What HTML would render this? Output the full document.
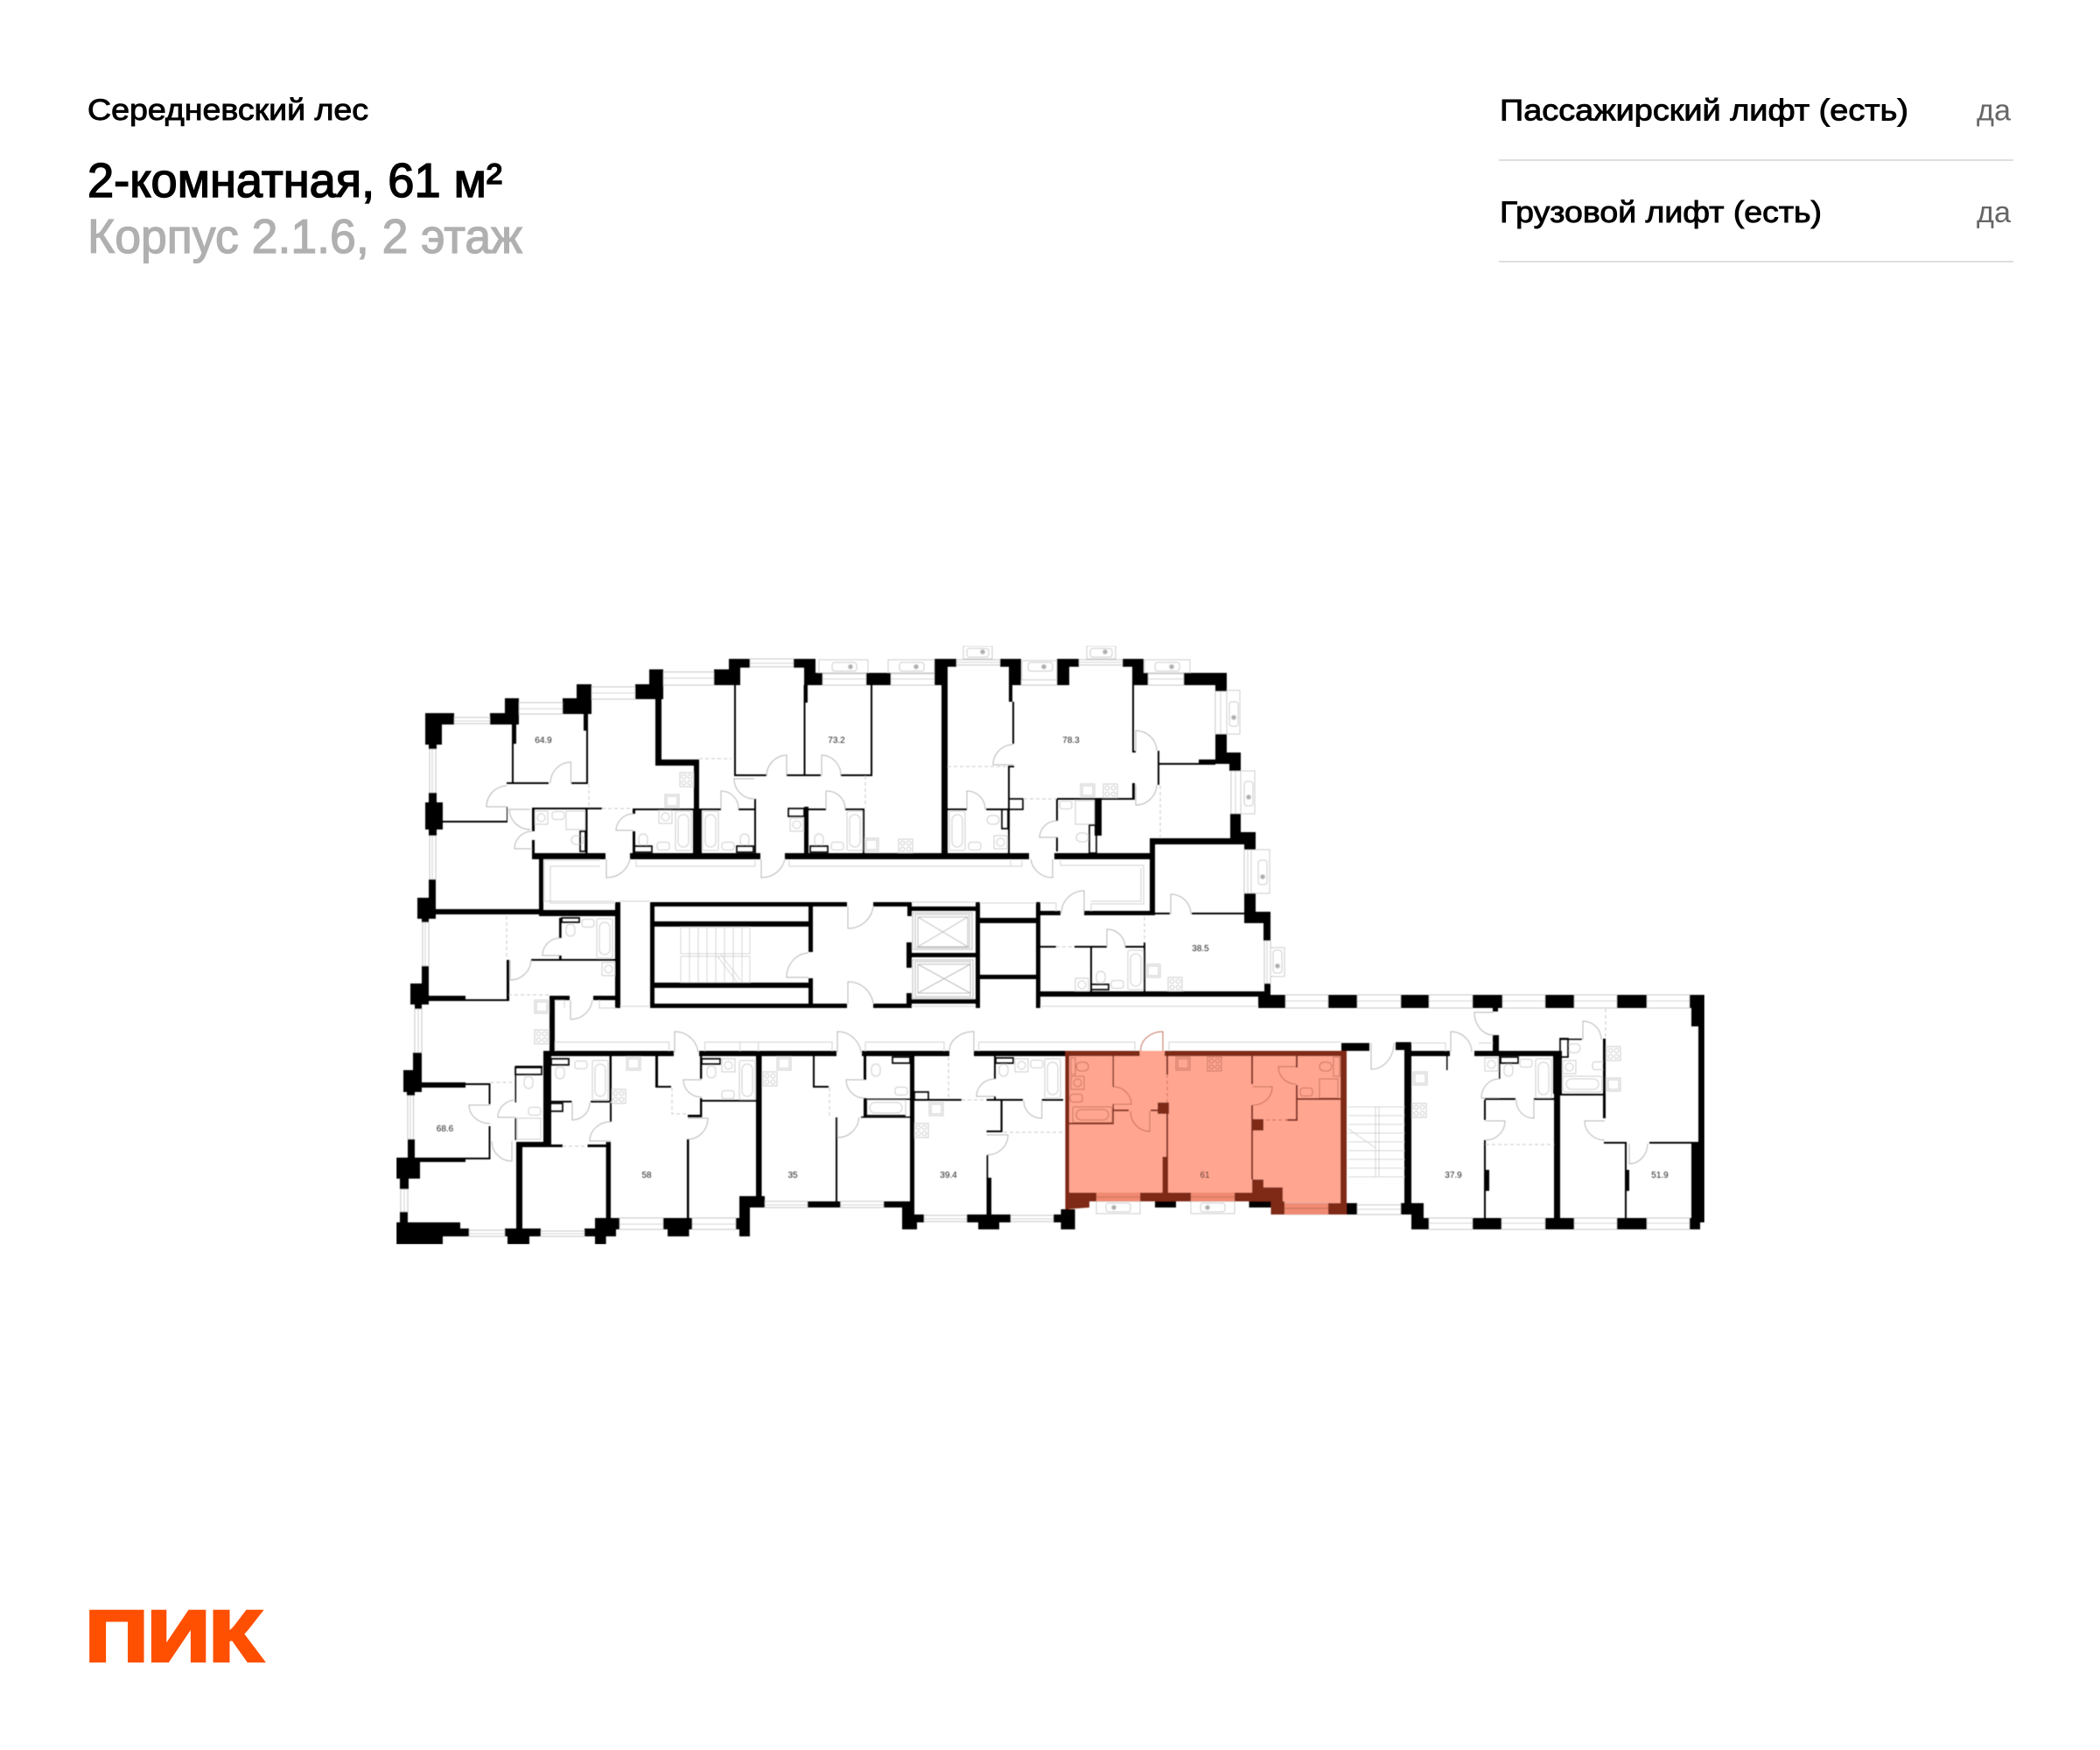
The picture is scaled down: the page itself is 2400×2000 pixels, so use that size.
<!DOCTYPE html>
<html lang="ru"><head><meta charset="utf-8"><title>Середневский лес</title>
<style>html,body{margin:0;padding:0;background:#fff}svg{display:block}text{font-family:"Liberation Sans","DejaVu Sans",sans-serif}</style></head>
<body>
<svg xmlns="http://www.w3.org/2000/svg" width="2400" height="2000" viewBox="0 0 2400 2000">
<defs>
<filter id="b" x="0" y="0" width="100%" height="100%"><feGaussianBlur stdDeviation="0.6"/></filter>
<g id="st" fill="none"><rect x="0" y="0" width="16" height="16"/><circle cx="4.5" cy="4.5" r="2.4"/><circle cx="11.5" cy="4.5" r="2.4"/><circle cx="4.5" cy="11.5" r="2.4"/><circle cx="11.5" cy="11.5" r="2.4"/></g>
<g id="kk" fill="none"><rect x="0" y="0" width="16" height="15"/><rect x="2" y="2" width="12" height="11"/></g>
<g id="ws" fill="none"><rect x="0" y="0" width="15" height="15"/><circle cx="7.500" cy="7.500" r="4.500"/></g>
<g id="wc" fill="none"><rect x="-5" y="-7" width="10" height="14" rx="5"/></g>
<g id="wh" fill="none"><rect x="-7" y="-5" width="14" height="10" rx="5"/></g>
<g id="bn" fill="none"><rect x="-7" y="-4.500" width="14" height="9" rx="3"/></g>
<g id="bv" fill="none"><rect x="0" y="0" width="18" height="45" rx="2"/><rect x="3" y="4" width="12" height="37" rx="6"/></g>
<g id="bh" fill="none"><rect x="0" y="0" width="45" height="18" rx="2"/><rect x="4" y="3" width="37" height="12" rx="6"/></g>
</defs>

<text x="100" y="137" font-size="34" fill="#000" stroke="#000" stroke-width=".9" textLength="321" lengthAdjust="spacingAndGlyphs">Середневский лес</text>
<text x="100" y="225" font-size="55" fill="#000" stroke="#000" stroke-width="1.500" textLength="474" lengthAdjust="spacingAndGlyphs">2-комнатная, 61 м²</text>
<text x="100" y="289" font-size="55" fill="#b0b0b0" stroke="#b0b0b0" stroke-width="1.300" textLength="497" lengthAdjust="spacingAndGlyphs">Корпус 2.1.6, 2 этаж</text>
<text x="1714" y="137.500" font-size="34" fill="#000" stroke="#000" stroke-width=".9" textLength="467" lengthAdjust="spacingAndGlyphs">Пассажирский лифт (есть)</text>
<text x="2259" y="137.500" font-size="34" fill="#666" textLength="39" lengthAdjust="spacingAndGlyphs">да</text>
<rect x="1713" y="182" width="588" height="2" fill="#dedede"/>
<text x="1714" y="254" font-size="34" fill="#000" stroke="#000" stroke-width=".9" textLength="368" lengthAdjust="spacingAndGlyphs">Грузовой лифт (есть)</text>
<text x="2259" y="254" font-size="34" fill="#666" textLength="39" lengthAdjust="spacingAndGlyphs">да</text>
<rect x="1713" y="298" width="588" height="2" fill="#dedede"/>
<text x="98" y="1898" font-size="82" font-weight="700" fill="#ff4f00" stroke="#ff4f00" stroke-width="4" stroke-linejoin="miter" textLength="201.500" lengthAdjust="spacingAndGlyphs">ПИК</text>

<g filter="url(#b)">
<!-- apartment highlight -->
<path d="M1217.500 1201H1539V1388H1452.500V1373H1245V1380L1217.500 1382z" fill="#ffa590"/>

<!-- stairs -->
<path fill="none" stroke="#d4d4d4" stroke-width="1" d="M778 1060H857V1090H778zM778 1093H857V1123H778zM788 1060V1123M798 1060V1123M808 1060V1123M818 1060V1123M828 1060V1123M838 1060V1123M848 1060V1123M820 1093L842 1122M824 1091L846 1120
M1541 1265H1605M1541 1275H1605M1541 1285H1605M1541 1295H1605M1541 1305H1605M1541 1315H1605M1541 1325H1605M1541 1335H1605M1541 1345H1605M1572 1265V1345M1576 1265V1345M1541 1290L1572 1312"/>

<!-- windows, corridor frames -->
<path fill="#fff" stroke="#c4c4c4" stroke-width="1" d="M519 820H560V827H519zM593 803H643V816H593zM676 785H726V799H676zM758 768H816V783H758zM857 753H907V762H857zM940 770H990V783H940zM1018 770H1068V783H1018zM1093 754H1143V760H1093zM1167 777H1208V783H1167zM1233 754H1283V760H1233zM1312 770H1353V783H1312z
M491 856H498V906H491zM491 955H498V1005H491zM1389 790H1402V839H1389zM1407 881H1418V930H1407zM1422 971H1430V1021H1422zM1445 1075H1452V1124H1445zM483 1054H490V1104H483zM474 1153H482V1203H474zM466 1252H472.500V1302H466zM458 1359H466V1385H458z
M536 1406H577V1413H536zM618 1407H668V1413H618zM708 1392H758V1405H708zM791 1392H841V1405H791zM874 1373H923V1380H874zM960.500 1373H1010V1380H960.500zM1056 1389H1105V1396H1056zM1155 1389H1204V1396H1155zM1468 1375H1518V1388H1468zM1551 1377H1601V1388H1551zM1633 1392H1683V1405H1633zM1716 1392H1766V1405H1716zM1799 1392H1848V1405H1799zM1882 1392H1931V1405H1882z
M1469 1137H1518V1152H1469zM1551 1137H1601V1152H1551zM1633 1137H1683V1152H1633zM1717 1137H1766V1152H1717zM1799 1137H1848V1152H1799zM1882 1137H1931V1152H1882z"/>
<path fill="none" stroke="#d0d0d0" stroke-width="1" d="M519 824H560M593 810H643M676 792H726M758 775H816M857 758H907M940 776H990M1018 776H1068M1233 757H1283M1093 757H1143M1312 776H1353M494 856V906M494 955V1005M1395 790V839M1412 881V930M1426 971V1021M1448 1075V1124M486 1054V1104M478 1153V1203M469 1252V1302M462 1359V1385M536 1410H577M618 1410H668M708 1399H758M791 1399H841M874 1377H923M960.500 1377H1010M1056 1393H1105M1155 1393H1204M1468 1381H1518M1551 1382H1601M1633 1398H1683M1716 1398H1766M1799 1398H1848M1882 1398H1931M1469 1144H1518M1551 1144H1601M1633 1144H1683M1717 1144H1766M1799 1144H1848M1882 1144H1931
M622 983H686M629 990H686M622 983V1030H702M629 990V1032H702M727 983V990H863V983M902 983V990H1168V983M1155 983V990M1212 983V989H1307V1033H1247V1041M1304 992V1030H1247M1042 1031H1115M1120 1032H1184M1189 1032H1207V1041M708 1030H743M708 1150H742M1189 1150H1438M1040 1150H1115M630 1032H703M685 1143V1152H704M634 1191H764.500V1201M634 1191V1201M805.500 1191H951V1201M805.500 1191V1201M845.700 1191V1201M866.700 1191V1201M989 1191H1079V1201M989 1191V1201M1118.600 1191H1297V1201M1118.600 1191V1201M1336 1191H1533M1336 1191V1201M1613 1192H1652V1201M1690 1192H1707V1201M634 1143H645V1152"/>

<!-- balconies -->
<g fill="none" stroke="#cccccc" stroke-width="1">
<rect x="936" y="754" width="56" height="15"/><rect x="951" y="757" width="28" height="10" rx="3"/><circle cx="972" cy="762" r="2.500" fill="#aaa"/>
<rect x="1015" y="754" width="53" height="15"/><rect x="1028" y="757" width="28" height="10" rx="3"/><circle cx="1047" cy="762" r="2.500" fill="#aaa"/>
<rect x="1101" y="738" width="33" height="15"/><rect x="1105" y="741" width="25" height="10" rx="3"/><circle cx="1123" cy="745" r="2.500" fill="#aaa"/>
<rect x="1168" y="755" width="40" height="22"/><rect x="1175" y="757" width="28" height="10" rx="3"/><circle cx="1193" cy="762" r="2.500" fill="#aaa"/>
<rect x="1242" y="738" width="33" height="15"/><rect x="1246" y="741" width="25" height="10" rx="3"/><circle cx="1263" cy="745" r="2.500" fill="#aaa"/>
<rect x="1308" y="754" width="52" height="15"/><rect x="1320" y="757" width="28" height="10" rx="3"/><circle cx="1339" cy="762" r="2.500" fill="#aaa"/>
<rect x="1402" y="789" width="15" height="50"/><rect x="1405" y="802" width="10" height="28" rx="3"/><circle cx="1410" cy="820" r="2.500" fill="#aaa"/>
<rect x="1418" y="881" width="16" height="49"/><rect x="1422" y="893" width="10" height="28" rx="3"/><circle cx="1427" cy="911" r="2.500" fill="#aaa"/>
<rect x="1430" y="971" width="21" height="50"/><rect x="1438" y="983" width="10" height="28" rx="3"/><circle cx="1443" cy="1002" r="2.500" fill="#aaa"/>
<rect x="1452" y="1083" width="16" height="33"/><rect x="1455" y="1086" width="10" height="26" rx="3"/><circle cx="1460" cy="1104" r="2.500" fill="#aaa"/>
<rect x="1253" y="1373" width="50" height="14"/><rect x="1264" y="1375" width="28" height="10" rx="3"/><circle cx="1273" cy="1380" r="2.500" fill="#aaa"/>
<rect x="1361" y="1373" width="50" height="14"/><rect x="1372" y="1375" width="28" height="10" rx="3"/><circle cx="1380" cy="1380" r="2.500" fill="#aaa"/>
</g>

<!-- lifts -->
<g fill="none" stroke="#bdbdbd" stroke-width="1">
<rect x="1043" y="1043" width="68" height="42"/><rect x="1046" y="1045" width="62" height="38"/><path d="M1049 1048H1106V1082H1049zM1049 1048L1106 1082M1106 1048L1049 1082"/>
<rect x="1043" y="1097" width="69" height="44"/><rect x="1046" y="1099" width="63" height="40"/><path d="M1049 1102H1109V1135H1049zM1049 1102L1109 1135M1109 1102L1049 1135"/>
</g>

<!-- fixtures -->
<g stroke="#cdcdcd" stroke-width="1">
<use href="#st" x="777" y="883"/><use href="#st" x="1261" y="896"/><use href="#st" x="1027" y="959"/><use href="#st" x="611" y="1177"/><use href="#st" x="699" y="1245"/><use href="#st" x="872" y="1225"/><use href="#st" x="1045" y="1284"/><use href="#st" x="1614" y="1261"/><use href="#st" x="1836" y="1196"/><use href="#st" x="1335" y="1117"/>
<use href="#kk" x="760" y="908"/><use href="#kk" x="1235" y="896"/><use href="#kk" x="716" y="1208"/><use href="#kk" x="888" y="1208"/><use href="#kk" x="1062" y="1260"/><use href="#kk" x="1615" y="1225"/><use href="#kk" x="1836" y="1232"/><use href="#kk" x="1310" y="1102"/><use href="#kk" x="611" y="1143"/><use href="#kk" x="988" y="958"/>
<use href="#ws" x="611" y="927"/><use href="#ws" x="753" y="926"/><use href="#ws" x="903" y="935"/><use href="#ws" x="1136" y="955"/><use href="#ws" x="688" y="1100"/><use href="#ws" x="825" y="1210"/><use href="#ws" x="1160" y="1210"/><use href="#ws" x="1229" y="1118"/><use href="#ws" x="1697" y="1209"/><use href="#ws" x="1786" y="1212"/>
<use href="#wc" x="735" y="960"/><use href="#wc" x="851" y="960"/><use href="#wc" x="936" y="960"/><use href="#wc" x="652" y="1063"/><use href="#wc" x="640" y="1226"/><use href="#wc" x="604" y="1237"/><use href="#wc" x="813" y="1225"/><use href="#wc" x="1001" y="1223"/><use href="#wc" x="1147" y="1223"/><use href="#wc" x="1724" y="1223"/><use href="#wc" x="1258" y="1117"/>
<use href="#wh" x="660" y="960"/><use href="#wh" x="1135" y="937"/><use href="#wh" x="1237" y="957"/><use href="#wh" x="1799" y="1198"/>
<use href="#bn" x="638" y="932"/><use href="#bn" x="758" y="967"/><use href="#bn" x="832" y="967"/><use href="#bn" x="957" y="967"/><use href="#bn" x="1114" y="967"/><use href="#bn" x="1218" y="920"/><use href="#bn" x="672" y="1055"/><use href="#bn" x="664" y="1217"/><use href="#bn" x="611" y="1270"/><use href="#bn" x="832" y="1251"/><use href="#bn" x="1030" y="1247"/><use href="#bn" x="1185" y="1216"/><use href="#bn" x="1277" y="1125"/><use href="#bn" x="1744" y="1215"/><use href="#bn" x="1827" y="1218"/>
<use href="#bv" x="772" y="927"/><use href="#bv" x="803" y="927"/><use href="#bv" x="968" y="927"/><use href="#bv" x="1085" y="927"/><use href="#bv" x="682" y="1050"/><use href="#bv" x="677" y="1212"/><use href="#bv" x="845" y="1212"/><use href="#bv" x="1194" y="1210"/><use href="#bv" x="1289" y="1086"/><use href="#bv" x="1755" y="1210"/>
<use href="#bh" x="990" y="1257"/><use href="#bh" x="1786" y="1230"/>
<path fill="none" d="M647 927H669V948H647zM1229 915H1251V942H1229zM591 1278H618V1302H591z"/>
</g>
<g stroke="#c9735d" stroke-width="1">
<use href="#st" x="1380" y="1208"/><use href="#kk" x="1344" y="1208"/><use href="#ws" x="1224" y="1230"/>
<use href="#wh" x="1237" y="1219"/><use href="#wh" x="1515" y="1219"/><use href="#bn" x="1230" y="1255"/><use href="#bn" x="1493" y="1248"/><use href="#bh" x="1226" y="1265"/>
<path fill="none" d="M1508 1233H1529V1255H1508zM1224 1209H1229V1228H1224zM1524 1208H1531V1230H1524z"/>
</g>

<!-- doors -->
<path fill="none" stroke="#b5b5b5" stroke-width="1" d="M652.500 895V871A24 24 0 0 0 629 895M579 922H556A24 24 0 0 1 579 898M606 925H582A24 24 0 0 0 606 948M608 970H588A20 20 0 0 1 608 950M693 982V1003A27 27 0 0 0 720 982M870 982V1003A27 27 0 0 0 897 982M724 949H704A20 20 0 0 1 724 930M824 925V904A20 20 0 0 1 844 925M862 890H839A23 23 0 0 0 862 913M899 887V863A24 24 0 0 0 876 887M939 887V863A23 23 0 0 1 961 887M944 925V904A21 21 0 0 1 966 925M1105 925V904A21 21 0 0 1 1126 925M1158 874H1135A23 23 0 0 1 1158 851M1298 858V835A24 24 0 0 1 1322 858M1298 897V920A24 24 0 0 0 1322 897M1209 957H1188A20 20 0 0 1 1209 938M1203 982V1003A25 25 0 0 1 1178 982M1239 1044V1018A26 26 0 0 0 1213 1044M1338 1045V1022A23 23 0 0 1 1361 1045M1265 1082V1062A21 21 0 0 1 1286 1082
M969 1036V1061A29 29 0 0 0 998 1036M969 1147V1122A29 29 0 0 1 998 1147M924 1117H899A26 28 0 0 1 924 1089M640 1092H620A20 20 0 0 1 640 1072M583 1097V1120A24 24 0 0 0 607 1097M652 1143V1165A25 25 0 0 0 677 1143M560 1263H536A24 21 0 0 0 560 1284M590 1277H569A21 20 0 0 1 590 1257M585 1304V1327A23 23 0 0 1 562 1304M771 1203V1179A27 27 0 0 1 798 1203M957 1203V1179A27 27 0 0 1 984 1203M654 1260V1280A20 20 0 0 0 674 1260M698 1304H674A24 22 0 0 1 698 1282M802 1234H781A21 20 0 0 0 802 1254M786 1278H809A23 24 0 0 1 786 1302M957 1277V1300A24 24 0 0 0 981.500 1277M988 1234H967A21 21 0 0 0 988 1255M1113 1201V1179A28 22 0 0 0 1085 1201M1567 1192V1222A26 30 0 0 0 1593 1192M1137 1253H1116A21 20 0 0 1 1137 1233M1127.500 1297H1152A24 23 0 0 1 1127.500 1320M1190.700 1258V1278A20 20 0 0 1 1170 1258M1658 1202V1179A24 24 0 0 1 1682 1202M1707 1157H1685A22 26 0 0 0 1707 1183M1713 1255H1693A20 22 0 0 1 1713 1233M1753 1257V1278A20 20 0 0 1 1733 1257M1698 1281H1720A22 22 0 0 1 1698 1303M1809 1188V1167A21 21 0 0 1 1830 1188M1834 1281H1811A23 22 0 0 0 1834 1303M1862 1307V1330A21 23 0 0 0 1883 1307"/>
<path fill="none" stroke="#c56f58" stroke-width="1" d="M1329 1201V1179A25 22 0 0 0 1303.500 1201M1272 1262H1293A21 20 0 0 0 1272 1242M1314 1270V1293A22 23 0 0 1 1292 1270M1432 1242H1454A22 21 0 0 1 1432 1263M1481 1219H1461A20 20 0 0 0 1481 1239"/>

<!-- dashed partitions -->
<path fill="none" stroke="#c8c8c8" stroke-width="1" stroke-dasharray="4 3" d="M673 896V923M688 924H723M799 867H836M989 887V923M1083 876H1152M1170 913H1207M1326 898V957M1308 1048V1077M579 1047V1095M581 1137H627M560.500 1237H588.500M768 1243V1273H786M948 1243V1275M643 1310H671M1099 1257H1127M1147 1294H1215M1698 1308H1777M1835 1153V1187M1207 1082H1228M1084 1208V1255"/>
<path fill="none" stroke="#c56f58" stroke-width="1" stroke-dasharray="4 3" d="M1334 1228V1260M1433 1280H1471"/>

<!-- black outline boxes -->
<path fill="none" stroke="#000" stroke-width="1.700" d="M1153 913H1169V925H1153zM1145 925H1152V947H1145zM663 950H669V973H663zM1245 943H1253V975H1245zM724 967H745V974H724zM842 967H861V974H842zM926 967H946V974H926zM630 1210H650V1217H630zM589 1220H619V1228H589zM802 1210H823V1216H802zM1020 1208H1040V1215H1020zM627 1261H643V1270H627zM1138 1209H1158V1215H1138zM642 1049H662V1054H642zM1247 1125H1267V1131H1247zM1045 1248H1061V1257H1045zM1783 1187H1792V1208H1783zM1715 1208H1735V1215H1715zM901 924H919V933H901zM990 1257V1275H1035M920 962V975"/>

<!-- black walls -->
<path fill="#000" d="M486 815H519V828H486zM486 815H505V851H486zM490 851H499V856H490zM560 815H593V828H560zM577 798H593V828H577zM585 828H590V850H585zM585 850H587V895H585zM643 798H676V816H643zM659 782H676V816H659zM667 816H672V835H667zM670 835H672V895H670zM579 894H627V896H579zM653 894H672V896H653zM726 782H758V799H726zM742 765H758V799H742zM749 799H756V875H749zM749 868H799V875H749zM793 868H799V924H793zM792 924H802V976H792zM816 765H846V783H816zM833 753H857V763H833zM833 753H846V783H833zM839 783H841V887H839zM839 885H876V887H839zM899 885H938V887H899zM918.500 783H920.500V887H918.500zM961 885H995V887H961zM995 783H997V887H995zM907 753H932V763H907zM919 753H932V783H919zM919 769H940V783H919zM919 783H923V803H919zM990 769H1018V783H990z
M1068 753H1093V762H1068zM1068 753H1083V783H1068zM1076 783H1083V976H1076zM1143 753H1167V762H1143zM1153 753H1167V783H1153zM1153 783H1157V802H1153zM1157 802H1159V850H1157zM1152 875H1159V877H1152zM1152 877H1154V976H1152zM1208 753H1233V762H1208zM1208 753H1222V783H1208zM1283 753H1307V762H1283zM1294 753H1307V783H1294zM1294 769H1312V783H1294zM1353 769H1402V783H1353zM1389 769H1402V790H1389zM1294 783H1296V860H1294zM1294 858H1298V860H1294zM1294 895H1297V914H1294zM1208 912H1297V914H1208zM1323 858H1325V897H1323zM1325 872H1389V874H1325zM1370 868H1389V874H1370zM1389 839H1402V873H1389zM1389 860H1418V873H1389zM1405 860H1418V881H1405zM1406 930H1418V958H1406zM1406 951H1435V958H1406zM1422 951H1435V971H1422zM1314 958H1422V965H1314zM1314 958H1320V1046H1314zM1422 1021H1435V1055H1422zM1422 1042H1452V1055H1422zM1444 1055H1452V1075H1444zM1320 1043H1337V1045H1320zM1362 1043H1422V1045H1362z
M608 975H692V982H608zM720 975H869V982H720zM897 975H1176V982H897zM1205 975H1315V982H1205zM616 975H621V1046H616zM490 1039H618V1045H490zM616 1040H709V1047H616zM608 923H611V950H608zM608 960H611V975H608zM608 923H688V925H608zM669 925H671.500V975H669zM723 924H792V926H723zM723 924H726V930H723zM723 950H726V975H723zM802 924H824V926H802zM844 924H863V926H844zM862 913H864V975H862zM919 922H924V975H919zM924 924H944V926H924zM966 924H988V926H966zM986 925H988V975H986zM490 906H499V918H490zM486 917H506V948H486zM490 948H499V955H490zM506 938H580V940H506zM579 922H580V940H579zM490 1005H498V1027H490zM477 1026H498V1050H477zM482 1050H490V1054H482zM1083 924H1105V926H1083zM1127 924H1153V926H1127zM1207 913H1209V938H1207zM1207 957H1209V973H1207zM1251 913H1259V955H1251z
M703 1031H709V1152H703zM743 1031H968V1036H743zM743 1031H748V1152H743zM748 1053H924V1059H748zM924 1036H929V1088H924zM924 1118H929V1147H924zM748 1123H924V1129H748zM743 1147H968V1152H743zM998 1031H1042V1036H998zM1037 1031H1042V1047H1037zM1042 1036H1115V1041H1042zM1115 1031H1120V1152H1115zM1036 1077H1042V1106H1036zM1042 1089H1115V1094H1042zM1036 1135H1042V1152H1036zM1042 1142H1115V1147H1042zM998 1147H1042V1152H998zM1120 1049H1184V1055H1120zM1120 1114H1184V1119H1120zM1184 1031H1189V1152H1184zM1189 1041H1212V1046H1189zM1239 1041H1315V1046H1239zM1189 1133H1447V1139H1189zM1189 1081H1207V1083H1189zM1228 1081H1265V1083H1228zM1286 1081H1309V1083H1286zM1246 1082H1248V1133H1246zM1307 1077H1309V1133H1307z
M482 1104H490V1140H482zM469 1124H490V1148H469zM474 1148H482V1153H474zM490 1138H532V1144H490zM532 1142H581V1144H532zM579 1097H582V1144H579zM607 1096H705V1098H607zM639 1049H641.700V1072H639zM639 1092H641.700V1097H639zM628 1138H651V1143H628zM628 1138H634V1204H628zM678 1138H705V1143H678z
M621 1201H770V1207H621zM799 1201H956V1207H799zM985 1201H1085V1207H985zM1113 1201H1217.500V1207H1113zM621 1201H630V1308H621zM474 1237H532V1243H474zM532 1238H560.500V1240H532zM558.500 1238H560.500V1262H558.500zM558.500 1287H560.500V1325H558.500zM472 1323H532V1328H472zM532 1323H560.500V1325H532zM472 1203H482V1237H472zM461 1223H482V1248H461zM465 1248H474V1252H465zM466 1302H474V1323H466zM453 1323H480V1347H453zM457 1347H467V1359H457zM457 1385H466V1398H457zM453 1397H526V1413H453zM453 1412H506V1422H453zM526 1404H536V1413H526zM577 1404H618V1413H577zM580 1413H605V1422H580zM590 1305H597V1405H590zM590 1305H627.500V1311H590zM627.500 1308H643V1311H627.500zM671.500 1308H692.600V1311H671.500zM692.600 1305H698V1393H692.600zM668 1404H704V1413H668zM680 1413H692.600V1422H680zM680 1392H708V1405H680zM758 1392H791V1405H758zM763 1405H787.500V1413H763zM785 1302H787.500V1393H785zM841 1392H857V1405H841zM845 1367H857V1413H845zM845 1367H874V1380H845zM864 1207H870.500V1373H864zM923 1373H960.500V1380H923zM955 1277H957V1373H955zM1010 1373H1040V1380H1010zM1031 1373H1040V1405H1031z
M588.500 1219H590V1260H588.500zM588.500 1278H590V1303H588.500zM588.500 1218H620V1220H588.500zM696.500 1207H699V1259H696.500zM630 1258H653.500V1260H630zM675 1258H697V1260H675zM697 1260H699V1282H697zM749 1207H752V1242H749zM749 1241H767V1243H749zM786 1274H802V1277H786zM800 1255H802.400V1277H800zM800 1257H864V1259H800zM800 1207H802.400V1233H800zM929 1207H931V1242H929zM929 1241H947V1243H929zM984 1276H1040V1277.500H984zM987 1255H990V1277H987zM987 1207H990V1234H987zM988 1255.500H1040V1257H988z
M1040 1207H1045V1390H1040zM1045 1256H1099V1258H1045zM1127.500 1256H1169V1258H1127.500zM1136 1207H1138V1233H1136zM1136 1253H1138V1257H1136zM1143.500 1258H1145.700V1293H1143.500zM1127.500 1292H1145.700V1294H1127.500zM1127.500 1320H1129.300V1347H1127.500zM1127.500 1346H1133V1388H1127.500zM1190.700 1256H1215V1258H1190.700zM1040 1388H1056V1397H1040zM1040 1397H1048V1405H1040zM1105 1388H1155V1397H1105zM1118 1397H1142V1405H1118zM1204 1388H1228.600V1397H1204zM1212.500 1382H1228.600V1405H1212.500zM1320 1373H1344V1380H1320zM1427.500 1373H1454V1380H1427.500zM1533 1192H1565V1201H1533zM1595 1191H1613V1200H1595zM1605 1191H1613V1377H1605zM1601 1375H1627V1388H1601zM1613 1375H1627V1405H1613zM1613 1392H1633V1405H1613zM1539 1375H1551V1388H1539z
M1438 1137H1469V1152H1438zM1445 1124H1452V1139H1445zM1518 1137H1551V1152H1518zM1601 1137H1633V1152H1601zM1683 1137H1717V1152H1683zM1766 1137H1799V1152H1766zM1848 1137H1882V1152H1848zM1931 1137H1948V1152H1931zM1933 1152H1942V1173H1933zM1941 1152H1948V1397H1941zM1933 1305H1948V1392H1933zM1931 1392H1943V1405H1931zM1706 1152H1712V1156H1706z
M1613 1201H1657V1207H1613zM1653 1207H1654.500V1223H1653zM1685 1201H1782V1207H1685zM1706 1183H1713V1202H1706zM1713 1207H1714.500V1233H1713zM1697 1255H1732V1257H1697zM1753 1255H1777V1257H1753zM1696 1257H1698V1280H1696zM1696 1303H1698V1392H1696zM1696 1337H1702V1361H1696zM1775 1201H1785V1250H1775zM1776 1201H1783V1392H1776zM1783 1250H1833V1252H1783zM1783 1187H1808V1188.500H1783zM1832 1187H1835V1278H1832zM1833 1305H1857V1307H1833zM1885 1305H1933V1307H1885zM1857 1305H1859V1392H1857zM1857 1337H1862V1361H1857zM1683 1392H1716V1405H1683zM1766 1392H1799V1405H1766zM1848 1392H1882V1405H1848z"/>

<!-- highlighted walls -->
<path fill="#7e2a14" d="M1217.500 1201H1302.500V1207H1217.500zM1331 1201H1539V1207H1331zM1217.500 1201H1222V1382H1217.500zM1532 1201H1539V1388H1532zM1217.500 1363H1253V1373H1217.500zM1217.500 1363H1245V1380L1217.500 1382zM1303 1363H1361V1373H1303zM1328.600 1322H1335V1363H1328.600zM1333 1207H1335V1228H1333zM1333 1260H1335V1322H1333zM1323 1260H1336V1273H1323zM1411 1363H1466V1373H1411zM1431 1357H1466V1373H1431zM1431 1348H1444V1357H1431zM1452.500 1373H1468V1388H1452.500zM1518 1375H1539V1388H1518zM1430 1207H1432V1239H1430zM1430 1263H1432V1348H1430zM1431 1279H1444V1292H1431zM1481 1207H1483V1220H1481zM1481 1240H1483V1281H1481zM1471 1279H1482V1281H1471zM1482 1255H1532V1257H1482zM1271.500 1207H1273V1242H1271.500zM1271.500 1262H1273V1285H1271.500zM1273 1268H1290V1270H1273zM1315 1268H1323V1270H1315zM1222 1283H1273V1285H1222z"/>
<path fill="#f08a72" d="M1253 1363H1303V1373H1253zM1361 1363H1411V1373H1361zM1468 1375H1518V1388H1468z"/>
<path fill="none" stroke="#c56f58" stroke-width="1" d="M1253 1368H1303M1361 1368H1411M1468 1381H1518"/>

<!-- labels -->
<g font-size="10" fill="#222" text-anchor="middle" style="font-family:'Liberation Sans',sans-serif">
<text x="621" y="849">64.9</text><text x="956" y="849">73.2</text><text x="1224" y="849">78.3</text><text x="1372" y="1087">38.5</text>
<text x="508.500" y="1293">68.6</text><text x="739" y="1346">58</text><text x="906" y="1346">35</text><text x="1084" y="1346">39.4</text><text x="1377" y="1346">61</text><text x="1661" y="1346">37.9</text><text x="1897" y="1346">51.9</text>
</g>
</g>
</svg>
</body></html>
